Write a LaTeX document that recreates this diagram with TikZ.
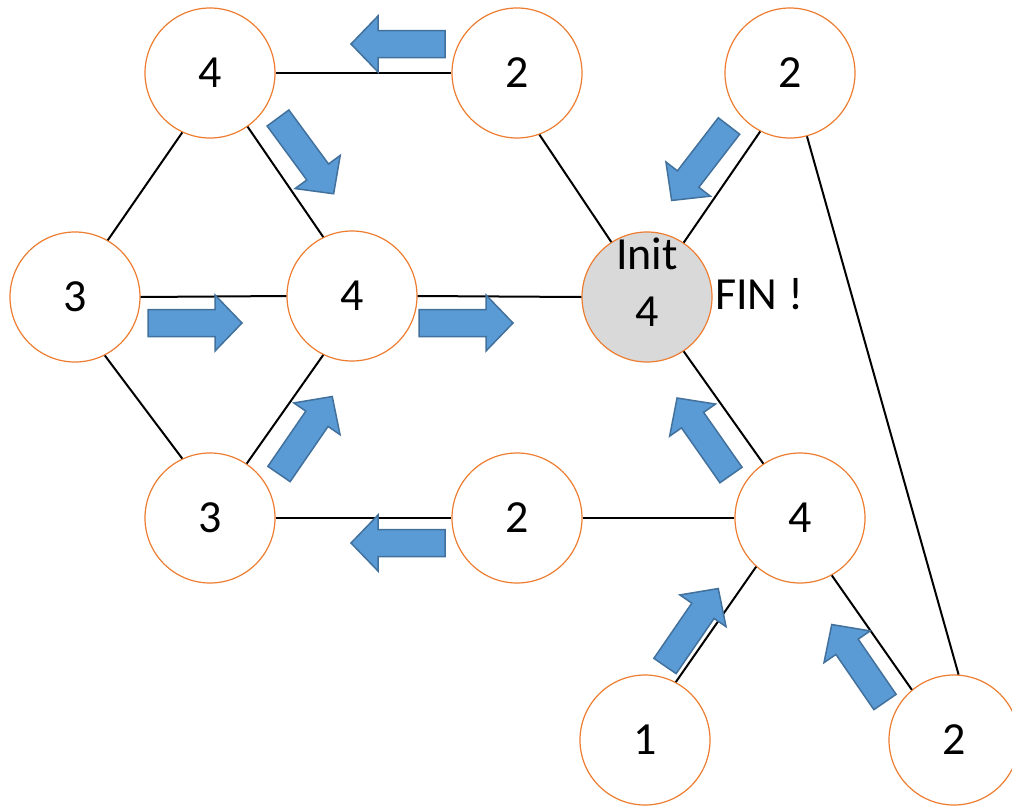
\documentclass[tikz,border=0pt]{standalone}
\usepackage{fontspec}
\setmainfont{Carlito}
\definecolor{nodeorange}{HTML}{ED7D31}
\definecolor{arrowblue}{HTML}{5B9BD5}
\definecolor{arrowedge}{HTML}{41719C}
\definecolor{initgray}{HTML}{D9D9D9}
\begin{document}
\begin{tikzpicture}[x=1pt,y=-1pt,
  circ/.style={circle, draw=nodeorange, line width=1.2pt, minimum size=130pt, inner sep=0pt, fill=white, font=\fontsize{46}{57}\selectfont},
  edge/.style={draw=black, line width=2pt},
  lbl/.style={inner sep=0pt, font=\fontsize{46}{57}\selectfont, align=center},
  barrowstyle/.style={fill=arrowblue, draw=arrowedge, line width=1.5pt, line join=miter},
  blockarrow/.pic={\path[barrowstyle] (0,-13.5) -- (67,-13.5) -- (67,-28) -- (94,0) -- (67,28) -- (67,13.5) -- (0,13.5) -- cycle;}]
\useasboundingbox (0,0) rectangle (1012,806);
\fill[white] (0,0) rectangle (1012,806);
\clip (0,0) rectangle (1012,806);

% nodes
\node[circ] (A) at (210,73) {4};
\node[circ] (B) at (517,73) {2};
\node[circ] (C) at (790,73) {2};
\node[circ] (D) at (75,297) {3};
\node[circ] (E) at (352,296) {4};
\node[circ, fill=initgray] (F) at (647,297) {};
\node[lbl] (Ftext) at ([yshift=15pt]F.center) {Init\\4};
\node[circ] (G) at (210,518) {3};
\node[circ] (H) at (517,518) {2};
\node[circ] (I) at (800,518) {4};
\node[circ] (J) at (645,740) {1};
\node[circ] (K) at (954,740) {2};
\node[lbl, anchor=west] (fin) at (715,294) {FIN !};

% edges
\draw[edge] (A.east) -- (B.west);
\draw[edge] (A.245) -- (D.60);
\draw[edge] (A.-55) -- (E.116);
\draw[edge] (D.east) -- (E.west);
\draw[edge] (D.-63) -- (G.115);
\draw[edge] (G.56) -- (E.-116);
\draw[edge] (G.east) -- (H.west);
\draw[edge] (E.east) -- (F.west);
\draw[edge] (B.-70) -- (F.123);
\draw[edge] (C.243) -- (F.56);
\draw[edge] (C.-75) -- (K.86);
\draw[edge] (F.-56) -- (I.124);
\draw[edge] (H.east) -- (I.west);
\draw[edge] (I.-132) -- (J.62);
\draw[edge] (I.-61) -- (K.130);

% block arrows
\pic[rotate=180] at (445,44) {blockarrow};
\pic[rotate=0] at (148,323) {blockarrow};
\pic[rotate=0] at (419,323) {blockarrow};
\pic[rotate=-53.7] at (278,118) {blockarrow};
\pic[rotate=55.5] at (279,474) {blockarrow};
\pic[rotate=180] at (445,543) {blockarrow};
\pic[rotate=232.4] at (729,126) {blockarrow};
\pic[rotate=125] at (731,475) {blockarrow};
\pic[rotate=55.5] at (665,666) {blockarrow};
\pic[rotate=124.5] at (885,702) {blockarrow};
\end{tikzpicture}
\end{document}
